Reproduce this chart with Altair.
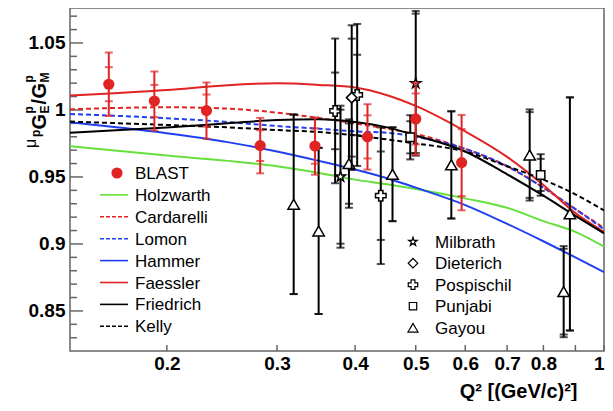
import altair as alt
import pandas as pd

# ---------------- data ----------------
Q_GRID = [0.14, 0.2, 0.25, 0.3, 0.35, 0.4, 0.45, 0.5, 0.6, 0.7, 0.8, 0.9, 1.0]
HOLZWARTH = [0.973, 0.966, 0.962, 0.958, 0.953, 0.948, 0.9445, 0.941, 0.934, 0.927, 0.917, 0.909, 0.898]
CARDARELLI = [1.0005, 1.002, 1.001, 0.998, 0.994, 0.990, 0.986, 0.982, 0.971, 0.958, 0.942, 0.926, 0.912]
LOMON = [0.997, 0.9938, 0.991, 0.988, 0.986, 0.984, 0.983, 0.980, 0.971, 0.958, 0.942, 0.926, 0.911]
HAMMER = [0.9908, 0.9826, 0.976, 0.969, 0.962, 0.9555, 0.949, 0.942, 0.929, 0.915, 0.902, 0.890, 0.879]
FAESSLER = [1.0107, 1.0149, 1.0185, 1.0199, 1.0187, 1.0168, 1.011, 1.003, 0.984, 0.965, 0.944, 0.923, 0.909]
FRIEDRICH = [0.983, 0.987, 0.990, 0.9925, 0.993, 0.991, 0.987, 0.981, 0.969, 0.952, 0.936, 0.921, 0.908]
KELLY = [0.9913, 0.9888, 0.987, 0.985, 0.9835, 0.981, 0.978, 0.975, 0.969, 0.958, 0.948, 0.937, 0.925]

BLAST_Q = [0.1615, 0.191, 0.2314, 0.282, 0.345, 0.4186, 0.500, 0.592]
BLAST_V = [1.0192, 1.0067, 0.9995, 0.9734, 0.9731, 0.9799, 0.9933, 0.9607]
BLAST_STAT = [0.0127, 0.012, 0.012, 0.0115, 0.0132, 0.0161, 0.019, 0.025]
BLAST_TOT = [0.0237, 0.022, 0.021, 0.0207, 0.0214, 0.0244, 0.027, 0.0356]

MILBRATH_Q = [0.379, 0.500]
MILBRATH_V = [0.9502, 1.0199]
MILBRATH_STAT = [0.050, 0.052]
MILBRATH_TOT = [0.053, 0.054]

DIETERICH_Q = [0.395]
DIETERICH_V = [1.0092]
DIETERICH_STAT = [0.044]
DIETERICH_TOT = [0.054]

POSPISCHIL_Q = [0.3716, 0.403, 0.4396]
POSPISCHIL_V = [0.9993, 1.0112, 0.936]
POSPISCHIL_STAT = [0.0286, 0.030, 0.033]
POSPISCHIL_TOT = [0.054, 0.053, 0.051]

PUNJABI_Q = [0.490, 0.792]
PUNJABI_V = [0.9796, 0.9515]
PUNJABI_STAT = [0.012, 0.012]
PUNJABI_TOT = [0.0165, 0.0155]

GAYOU_Q = [0.319, 0.3497, 0.391, 0.459, 0.570, 0.7606, 0.862, 0.882]
GAYOU_V = [0.9296, 0.9097, 0.960, 0.952, 0.959, 0.9664, 0.8644, 0.9224]
GAYOU_STAT = [0.067, 0.062, 0.030, 0.035, 0.040, 0.032, 0.032, 0.087]
GAYOU_TOT = [0.067, 0.062, 0.033, 0.035, 0.040, 0.034, 0.034, 0.087]

X_TICKS = [0.2, 0.3, 0.4, 0.5, 0.6, 0.7, 0.8, 0.9, 1.0]
X_LABELS = [0.2, 0.3, 0.4, 0.5, 0.6, 0.7, 0.8, 1.0]
Y_MAJOR = [0.85, 0.9, 0.95, 1.0, 1.05]
Y_MINOR = [0.83, 0.84, 0.86, 0.87, 0.88, 0.89, 0.91, 0.92, 0.93, 0.94,
           0.96, 0.97, 0.98, 0.99, 1.01, 1.02, 1.03, 1.04, 1.06, 1.07]

LEGEND1_LABELS = ["BLAST", "Holzwarth", "Cardarelli", "Lomon", "Hammer", "Faessler", "Friedrich", "Kelly"]
LEGEND2_LABELS = ["Milbrath", "Dieterich", "Pospischil", "Punjabi", "Gayou"]

# ---------------- style ----------------
RED = "#e02424"
GREEN = "#66e03c"
BLUE = "#2040f0"
BLACK = "#000000"
FONT = "Liberation Sans"
W, H = 534, 343
STAR = ("M0,-1L0.2245,-0.309L0.951,-0.309L0.363,0.118L0.588,0.809L0,0.382"
        "L-0.588,0.809L-0.363,0.118L-0.951,-0.309L-0.2245,-0.309Z")

xscale = alt.Scale(type="log", domain=[0.14, 1.0], nice=False, zero=False)
yscale = alt.Scale(domain=[0.8201, 1.0761], nice=False, zero=False)

xaxis = alt.Axis(values=X_LABELS, format="~g", ticks=False, domain=False, grid=False,
                 labelFont=FONT, labelFontSize=19, labelFontWeight="bold", labelColor="black",
                 labelPadding=3, labelFlush=True, labelOverlap=False, labelBound=False,
                 title="Q²  [(GeV/c)²]", titleFont=FONT, titleFontSize=20, titleFontWeight="bold",
                 titleColor="black", titleAlign="right", titleAnchor="end", titleBaseline="alphabetic",
                 titleX=507, titleY=46)
yaxis = alt.Axis(values=Y_MAJOR, format="~g", ticks=False, domain=False, grid=False,
                 labelFont=FONT, labelFontSize=19, labelFontWeight="bold", labelColor="black",
                 labelPadding=5, labelOverlap=False, labelFlush=False, title=None)

layers = []

# axis ticks drawn inward
ymaj = pd.DataFrame({"t": Y_MAJOR})
ymin = pd.DataFrame({"t": Y_MINOR})
xt = pd.DataFrame({"t": X_TICKS})
layers.append(alt.Chart(ymaj).mark_rule(color="#666", strokeWidth=1.5).encode(
    y=alt.Y("t:Q", scale=yscale, axis=yaxis), x=alt.value(0), x2=alt.value(13)))
layers.append(alt.Chart(ymin).mark_rule(color="#666", strokeWidth=1.5).encode(
    y=alt.Y("t:Q", scale=yscale), x=alt.value(0), x2=alt.value(7)))
layers.append(alt.Chart(xt).mark_rule(color="#666", strokeWidth=1.5).encode(
    x=alt.X("t:Q", scale=xscale, axis=xaxis), y=alt.value(H), y2=alt.value(H - 6)))

# theory curves
curves = [
    (HOLZWARTH, GREEN, None), (CARDARELLI, RED, [5, 3]), (LOMON, BLUE, [5, 3]),
    (HAMMER, BLUE, None), (FAESSLER, RED, None), (FRIEDRICH, BLACK, None), (KELLY, BLACK, [5, 3]),
]
for vals, col, dash in curves:
    df = pd.DataFrame({"q": Q_GRID, "v": vals})
    kw = dict(color=col, strokeWidth=2, interpolate="monotone", clip=True)
    if dash:
        kw["strokeDash"] = dash
    layers.append(alt.Chart(df).mark_line(**kw).encode(
        x=alt.X("q:Q", scale=xscale), y=alt.Y("v:Q", scale=yscale)))


def points(q, v, stat, tot, color, shape, size, filled):
    df = pd.DataFrame({"q": q, "v": v, "stat": stat, "tot": tot})
    df["lo"] = df["v"] - df["tot"]
    df["hi"] = df["v"] + df["tot"]
    df["slo"] = df["v"] - df["stat"]
    df["shi"] = df["v"] + df["stat"]
    base = alt.Chart(df)
    out = [base.mark_rule(color=color, strokeWidth=2).encode(
        x=alt.X("q:Q", scale=xscale), y=alt.Y("lo:Q", scale=yscale), y2="hi:Q")]
    for f in ["lo", "hi", "slo", "shi"]:
        out.append(base.mark_tick(color=color, orient="horizontal", size=8, thickness=2).encode(
            x=alt.X("q:Q", scale=xscale), y=alt.Y(f + ":Q", scale=yscale)))
    if filled:
        out.append(base.mark_point(shape=shape, size=size, filled=True, color=color, opacity=1).encode(
            x=alt.X("q:Q", scale=xscale), y=alt.Y("v:Q", scale=yscale)))
    else:
        out.append(base.mark_point(shape=shape, size=size, filled=True, fill="white", stroke=color,
                                   strokeWidth=1.5, opacity=1).encode(
            x=alt.X("q:Q", scale=xscale), y=alt.Y("v:Q", scale=yscale)))
    return out


layers += points(GAYOU_Q, GAYOU_V, GAYOU_STAT, GAYOU_TOT, BLACK, "triangle-up", 130, False)
layers += points(POSPISCHIL_Q, POSPISCHIL_V, POSPISCHIL_STAT, POSPISCHIL_TOT, BLACK, "cross", 110, False)
layers += points(DIETERICH_Q, DIETERICH_V, DIETERICH_STAT, DIETERICH_TOT, BLACK, "diamond", 110, False)
layers += points(PUNJABI_Q, PUNJABI_V, PUNJABI_STAT, PUNJABI_TOT, BLACK, "square", 70, False)
layers += points(MILBRATH_Q, MILBRATH_V, MILBRATH_STAT, MILBRATH_TOT, BLACK, STAR, 110, False)
layers += points(BLAST_Q, BLAST_V, BLAST_STAT, BLAST_TOT, RED, "circle", 125, True)

# ---------------- legend 1 (models) ----------------
L1_Y0, L1_DY = 165, 21.9
leg1_styles = [None, (GREEN, None), (RED, [4, 2]), (BLUE, [4, 2]), (BLUE, None),
               (RED, None), (BLACK, None), (BLACK, [4, 2])]
for i, st in enumerate(leg1_styles):
    yy = L1_Y0 + L1_DY * i
    if st is None:
        layers.append(alt.Chart(pd.DataFrame({"a": [0]})).mark_point(
            shape="circle", size=125, filled=True, color=RED, opacity=1).encode(
            x=alt.value(47), y=alt.value(yy)))
    else:
        col, dash = st
        kw = dict(color=col, strokeWidth=1.6)
        if dash:
            kw["strokeDash"] = dash
        layers.append(alt.Chart(pd.DataFrame({"a": [0]})).mark_rule(**kw).encode(
            x=alt.value(30), x2=alt.value(58), y=alt.value(yy)))
leg1 = pd.DataFrame({"label": LEGEND1_LABELS,
                     "px": [65] * len(LEGEND1_LABELS),
                     "py": [L1_Y0 + L1_DY * i for i in range(len(LEGEND1_LABELS))]})
layers.append(alt.Chart(leg1).mark_text(font=FONT, fontSize=17, align="left", baseline="middle",
                                        color="black", dy=1).encode(
    x=alt.X("px:Q", scale=None, axis=None), y=alt.Y("py:Q", scale=None, axis=None), text="label:N"))

# ---------------- legend 2 (data sets) ----------------
L2_Y0, L2_DY = 233.7, 21.5
leg2_shapes = [STAR, "diamond", "cross", "square", "triangle-up"]
leg2_sizes = [80, 90, 90, 55, 100]
for i, (shp, sz) in enumerate(zip(leg2_shapes, leg2_sizes)):
    layers.append(alt.Chart(pd.DataFrame({"a": [0]})).mark_point(
        shape=shp, size=sz, filled=True, fill="white", stroke="black", strokeWidth=1.2, opacity=1).encode(
        x=alt.value(343), y=alt.value(L2_Y0 + L2_DY * i)))
leg2 = pd.DataFrame({"label": LEGEND2_LABELS,
                     "px": [365] * len(LEGEND2_LABELS),
                     "py": [L2_Y0 + L2_DY * i for i in range(len(LEGEND2_LABELS))]})
layers.append(alt.Chart(leg2).mark_text(font=FONT, fontSize=17, align="left", baseline="middle",
                                        color="black", dy=1).encode(
    x=alt.X("px:Q", scale=None, axis=None), y=alt.Y("py:Q", scale=None, axis=None), text="label:N"))

# ---------------- y-axis title built from pieces ----------------
ytitle_bold = pd.DataFrame({
    "t": ["p", "G", "E", "p", "/", "G", "M", "p"],
    "px": [-30, -24, -21.5, -37.5, -24, -24, -21.5, -37.5],
    "py": [129, 121.5, 105.5, 105.5, 96.5, 90.5, 74.5, 74.5],
    "fs": [12, 20, 12, 12, 20, 20, 12, 12],
})
ytitle_mu = pd.DataFrame({"t": ["μ"], "px": [-34], "py": [140], "fs": [16]})
layers.append(alt.Chart(ytitle_bold).mark_text(font=FONT, fontWeight="bold", angle=270, align="left",
                                               baseline="alphabetic", color="black").encode(
    x=alt.X("px:Q", scale=None, axis=None), y=alt.Y("py:Q", scale=None, axis=None),
    size=alt.Size("fs:Q", scale=None, legend=None), text="t:N"))
layers.append(alt.Chart(ytitle_mu).mark_text(font=FONT, angle=270, align="left",
                                             baseline="alphabetic", color="black").encode(
    x=alt.X("px:Q", scale=None, axis=None), y=alt.Y("py:Q", scale=None, axis=None),
    size=alt.Size("fs:Q", scale=None, legend=None), text="t:N"))

chart = alt.layer(*layers).properties(
    width=W, height=H,
    padding={"left": 62, "top": 0, "right": 1, "bottom": 50},
    autosize=alt.AutoSizeParams(type="none"),
).configure_view(stroke="#666", strokeWidth=1.5)

chart.save("out.html", embed_options={"renderer": "svg", "actions": False})
